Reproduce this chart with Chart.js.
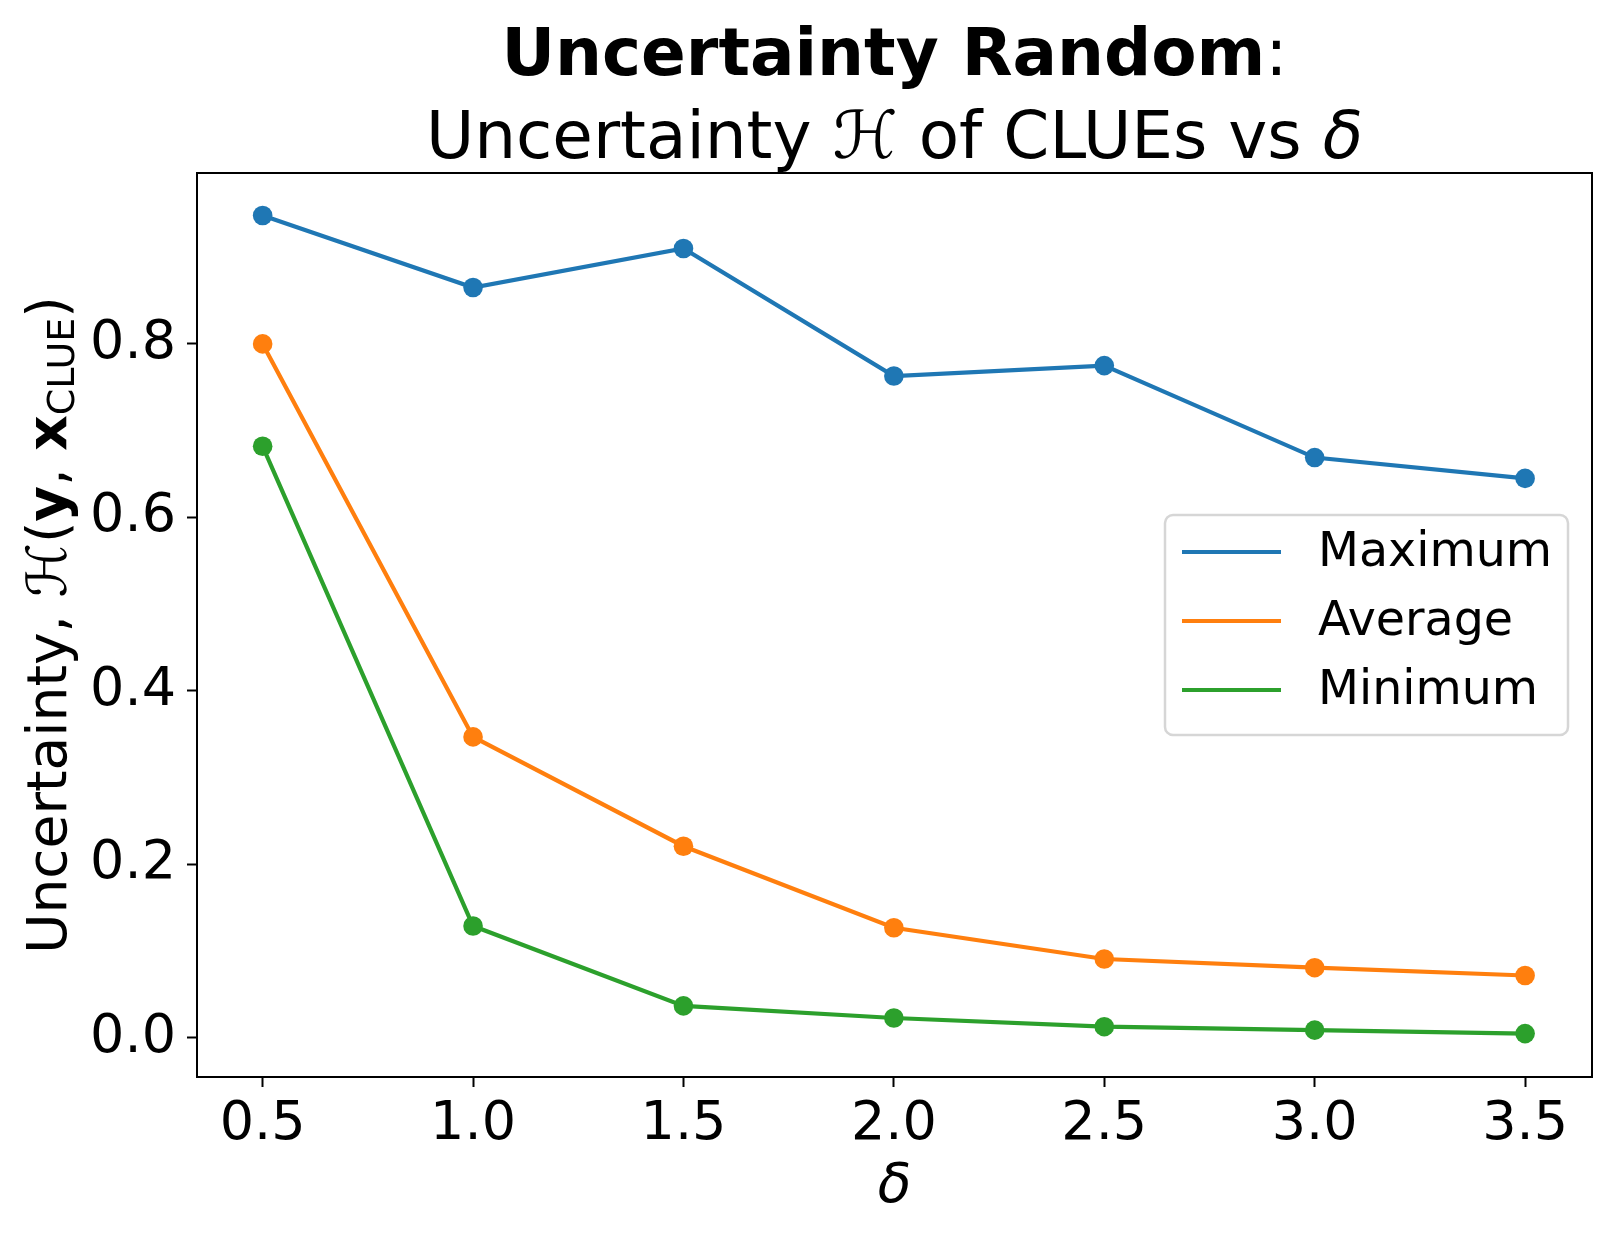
<!DOCTYPE html>
<html lang="en">
<head>
    <meta charset="UTF-8">
    <title>Uncertainty Random</title>
    <script src="https://cdn.jsdelivr.net/npm/chart.js"></script>
    <style>
        html, body { margin: 0; padding: 0; background: #fff; }
        #wrap { width: 1615px; height: 1237px; }
    </style>
</head>
<body>
<div id="wrap"><canvas id="myChart" width="1615" height="1237"></canvas></div>
<script>
    // values
    const deltas = [0.5, 1.0, 1.5, 2.0, 2.5, 3.0, 3.5];
    const maximumValues = [0.948, 0.865, 0.910, 0.763, 0.775, 0.669, 0.645];
    const averageValues = [0.800, 0.347, 0.221, 0.127, 0.091, 0.081, 0.072];
    const minimumValues = [0.682, 0.129, 0.037, 0.023, 0.013, 0.009, 0.005];
    const seriesNames = ['Maximum', 'Average', 'Minimum'];
    const seriesColors = ['#1f77b4', '#ff7f0e', '#2ca02c'];
    const xTicks = [0.5, 1.0, 1.5, 2.0, 2.5, 3.0, 3.5];
    const yTicks = [0.0, 0.2, 0.4, 0.6, 0.8];

    const FONT = "'DejaVu Sans', sans-serif";

    function makeSet(i, values) {
        return {
            label: seriesNames[i],
            data: deltas.map((d, k) => ({ x: d, y: values[k] })),
            borderColor: seriesColors[i],
            backgroundColor: seriesColors[i],
            borderWidth: 4.2,
            pointRadius: 9.8,
            pointBorderWidth: 0,
            pointBackgroundColor: seriesColors[i],
            tension: 0
        };
    }

    // draw segments of mixed-font text, centred on (0,0) of current ctx
    function drawRuns(ctx, runs) {
        let total = 0;
        runs.forEach(r => { ctx.font = r.font; r.w = ctx.measureText(r.text).width; total += r.w; });
        let x = -total / 2;
        ctx.textAlign = 'left';
        ctx.textBaseline = 'alphabetic';
        runs.forEach(r => {
            ctx.font = r.font;
            ctx.fillText(r.text, x, r.dy || 0);
            x += r.w;
        });
    }

    const decorations = {
        id: 'decorations',
        afterDraw(chart) {
            const ctx = chart.ctx;
            const a = chart.chartArea;
            const cx = (a.left + a.right) / 2;
            const cy = (a.top + a.bottom) / 2;
            ctx.save();
            ctx.fillStyle = '#000';

            // frame
            ctx.strokeStyle = '#000';
            ctx.lineWidth = 2;
            ctx.strokeRect(a.left, a.top, a.right - a.left, a.bottom - a.top);

            // title
            ctx.save();
            ctx.translate(cx, 75);
            drawRuns(ctx, [
                { text: 'Uncertainty Random', font: 'bold 66px ' + FONT },
                { text: ':', font: '66px ' + FONT }
            ]);
            ctx.restore();
            ctx.save();
            ctx.translate(cx, 158);
            drawRuns(ctx, [
                { text: 'Uncertainty ', font: '66px ' + FONT },
                { text: '\u210B', font: 'italic 66px ' + FONT },
                { text: ' of CLUEs vs ', font: '66px ' + FONT },
                { text: '\u03B4', font: 'italic 66px ' + FONT }
            ]);
            ctx.restore();

            // y axis label
            ctx.save();
            ctx.translate(66, cy);
            ctx.rotate(-Math.PI / 2);
            drawRuns(ctx, [
                { text: 'Uncertainty, ', font: '55px ' + FONT },
                { text: '\u210B', font: 'italic 55px ' + FONT },
                { text: '(', font: '55px ' + FONT },
                { text: 'y', font: 'bold 55px ' + FONT },
                { text: ', ', font: '55px ' + FONT },
                { text: 'x', font: 'bold 55px ' + FONT },
                { text: 'CLUE', font: '38px ' + FONT, dy: 8 },
                { text: ')', font: '55px ' + FONT }
            ]);
            ctx.restore();

            // x axis label
            ctx.save();
            ctx.translate(cx, 1202);
            drawRuns(ctx, [{ text: '\u03B4', font: 'italic 55px ' + FONT }]);
            ctx.restore();

            // legend
            const bw = 403, bh = 220;
            const bx = a.right - 24 - bw, by = cy - bh / 2;
            ctx.beginPath();
            ctx.roundRect(bx, by, bw, bh, 8);
            ctx.fillStyle = 'rgba(255,255,255,0.8)';
            ctx.fill();
            ctx.strokeStyle = '#d6d6d6';
            ctx.lineWidth = 2.5;
            ctx.stroke();
            ctx.font = '47.5px ' + FONT;
            ctx.textAlign = 'left';
            ctx.textBaseline = 'middle';
            chart.data.datasets.forEach((ds, i) => {
                const ly = by + 37 + i * 69;
                ctx.strokeStyle = ds.borderColor;
                ctx.lineWidth = 4.2;
                ctx.beginPath();
                ctx.moveTo(bx + 17, ly);
                ctx.lineTo(bx + 116, ly);
                ctx.stroke();
                ctx.fillStyle = '#000';
                ctx.fillText(ds.label, bx + 153, ly + 2);
            });
            ctx.restore();
        }
    };

    const ctx = document.getElementById('myChart').getContext('2d');
    const myChart = new Chart(ctx, {
        type: 'line',
        data: {
            datasets: [
                makeSet(0, maximumValues),
                makeSet(1, averageValues),
                makeSet(2, minimumValues)
            ]
        },
        options: {
            responsive: false,
            animation: false,
            layout: { padding: { top: 173, right: 23, left: 0, bottom: 0 } },
            plugins: {
                legend: { display: false },
                title: { display: false },
                tooltip: { enabled: false }
            },
            scales: {
                x: {
                    type: 'linear',
                    min: 0.344,
                    max: 3.659,
                    afterBuildTicks: s => { s.ticks = xTicks.map(v => ({ value: v })); },
                    afterFit: s => { s.height = 160; },
                    grid: { drawOnChartArea: false, drawTicks: true, tickLength: 10, tickWidth: 2, tickColor: '#000' },
                    border: { display: true, color: '#000', width: 2 },
                    ticks: {
                        color: '#000',
                        padding: 6,
                        maxRotation: 0,
                        font: { family: FONT, size: 54 },
                        callback: v => v.toFixed(1)
                    }
                },
                y: {
                    type: 'linear',
                    min: -0.045,
                    max: 0.997,
                    afterBuildTicks: s => { s.ticks = yTicks.map(v => ({ value: v })); },
                    afterFit: s => { s.width = 197; },
                    grid: { drawOnChartArea: false, drawTicks: true, tickLength: 10, tickWidth: 2, tickColor: '#000' },
                    border: { display: true, color: '#000', width: 2 },
                    ticks: {
                        color: '#000',
                        padding: 11,
                        font: { family: FONT, size: 54 },
                        callback: v => v.toFixed(1)
                    }
                }
            }
        },
        plugins: [decorations]
    });
</script>
</body>
</html>
